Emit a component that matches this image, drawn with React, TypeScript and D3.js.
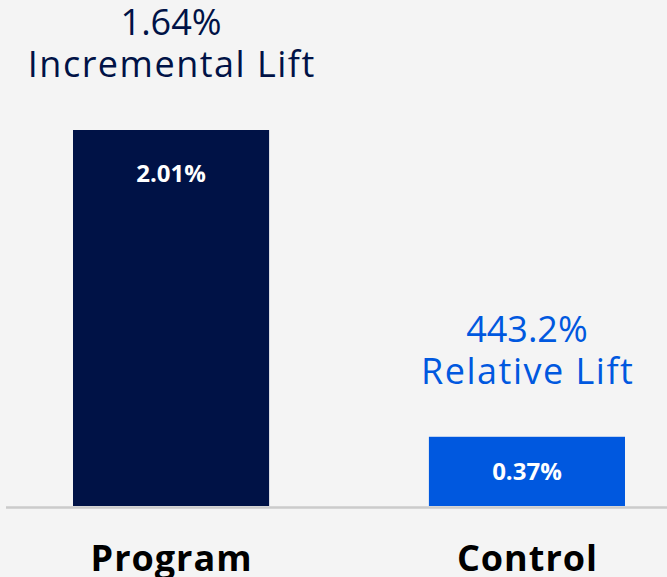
import * as d3 from 'd3';
import React, { useEffect, useRef } from 'react';

const categories = ['Program', 'Control'];
const values = [2.01, 0.37];
const valueLabels = ['2.01%', '0.37%'];
const liftValues = ['1.64%', '443.2%'];
const liftNames = ['Incremental Lift', 'Relative Lift'];

const width = 667;
const height = 577;
const barColors = ['#001246', '#0058df'];
const font = "'Open Sans', sans-serif";

function App() {
  const ref = useRef<SVGSVGElement>(null);

  useEffect(() => {
    const svg = d3.select(ref.current);
    svg.selectAll('*').remove();

    svg.append('rect')
      .attr('width', width)
      .attr('height', height)
      .attr('fill', '#f4f4f4');

    const x = d3.scaleBand<string>()
      .domain(categories)
      .range([73, 625])
      .paddingInner(0.449)
      .paddingOuter(0);

    const y = d3.scaleLinear()
      .domain([0, 2.01])
      .range([506, 130]);

    const data = categories.map((c, i) => ({ c, v: values[i], i }));
    const cx = (d: { c: string }) => x(d.c)! + x.bandwidth() / 2;

    svg.selectAll('rect.bar')
      .data(data)
      .enter().append('rect')
      .attr('class', 'bar')
      .attr('x', d => x(d.c)!)
      .attr('y', d => y(d.v))
      .attr('width', x.bandwidth())
      .attr('height', d => y(0) - y(d.v))
      .attr('fill', d => barColors[d.i]);

    // baseline
    svg.append('line')
      .attr('x1', 6)
      .attr('x2', width)
      .attr('y1', y(0) + 1.5)
      .attr('y2', y(0) + 1.5)
      .attr('stroke', '#cbcbcb')
      .attr('stroke-width', 2.5);

    // value labels inside bars
    svg.selectAll('text.val')
      .data(data)
      .enter().append('text')
      .attr('class', 'val')
      .attr('x', cx)
      .attr('y', d => Math.min(y(d.v) + 43, (y(d.v) + y(0)) / 2))
      .attr('dy', '0.36em')
      .attr('text-anchor', 'middle')
      .attr('fill', '#fff')
      .attr('font-family', font)
      .attr('font-weight', 700)
      .attr('font-size', 24)
      .text(d => valueLabels[d.i]);

    // lift annotations above bars
    const lift = svg.selectAll('g.lift')
      .data(data)
      .enter().append('g')
      .attr('class', 'lift')
      .attr('fill', d => barColors[d.i])
      .attr('font-family', font)
      .attr('font-size', 36)
      .attr('text-anchor', 'middle');

    lift.append('text')
      .attr('x', cx)
      .attr('y', d => y(d.v) - 95)
      .text(d => liftValues[d.i]);

    lift.append('text')
      .attr('x', d => cx(d) + 0.75)
      .attr('y', d => y(d.v) - 53)
      .attr('letter-spacing', 1.5)
      .text(d => liftNames[d.i]);

    // category labels
    svg.selectAll('text.cat')
      .data(data)
      .enter().append('text')
      .attr('class', 'cat')
      .attr('x', d => cx(d) + 0.5)
      .attr('y', 571)
      .attr('text-anchor', 'middle')
      .attr('fill', '#000')
      .attr('font-family', font)
      .attr('font-weight', 700)
      .attr('font-size', 36)
      .attr('letter-spacing', 1)
      .text(d => d.c);
  }, []);

  return (
    <svg
      ref={ref}
      width={width}
      height={height}
      style={{ position: 'absolute', left: 0, top: 0 }}
    />
  );
}

export default App;
